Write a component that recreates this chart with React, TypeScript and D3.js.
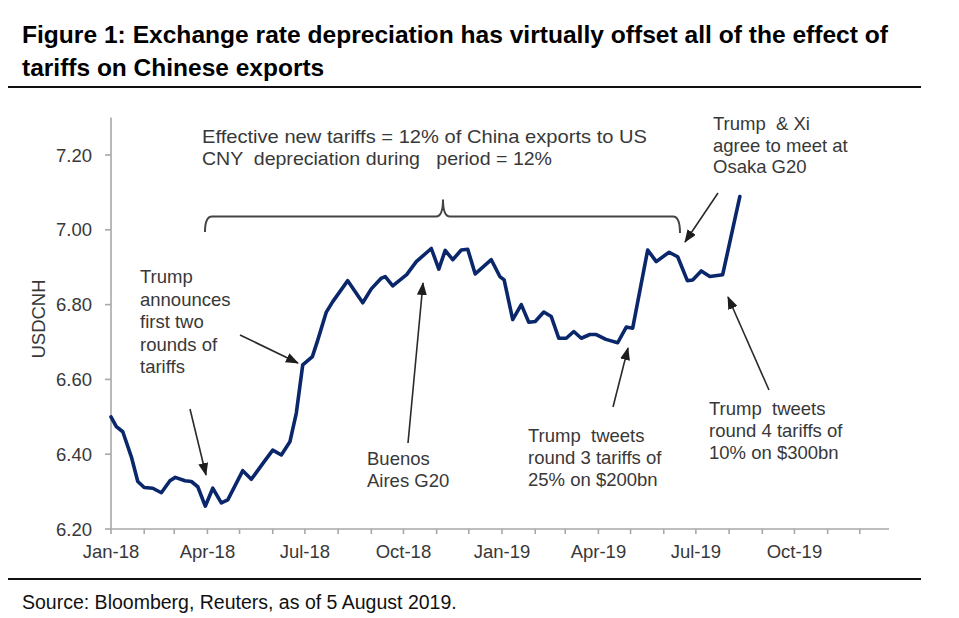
import React from "react";
import * as d3 from "d3";

// ---- Data ----
const dates: string[] = [
  "2018-01-01", "2018-01-06", "2018-01-12", "2018-01-20", "2018-01-26", "2018-02-01",
  "2018-02-09", "2018-02-17", "2018-02-25", "2018-03-02", "2018-03-11", "2018-03-17",
  "2018-03-23", "2018-03-30", "2018-04-06", "2018-04-14", "2018-04-20", "2018-05-04",
  "2018-05-12", "2018-05-24", "2018-06-01", "2018-06-09", "2018-06-17", "2018-06-23",
  "2018-06-29", "2018-07-08", "2018-07-13", "2018-07-21", "2018-07-27", "2018-08-10",
  "2018-08-24", "2018-09-01", "2018-09-10", "2018-09-14", "2018-09-21", "2018-10-04",
  "2018-10-13", "2018-10-27", "2018-11-03", "2018-11-09", "2018-11-16", "2018-11-24",
  "2018-11-30", "2018-12-07", "2018-12-22", "2018-12-30", "2019-01-03", "2019-01-11",
  "2019-01-19", "2019-01-26", "2019-02-01", "2019-02-09", "2019-02-16", "2019-02-23",
  "2019-03-02", "2019-03-09", "2019-03-16", "2019-03-24", "2019-03-30", "2019-04-08",
  "2019-04-19", "2019-04-27", "2019-05-03", "2019-05-17", "2019-05-25", "2019-06-06",
  "2019-06-14", "2019-06-23", "2019-06-28", "2019-07-06", "2019-07-14", "2019-07-26",
  "2019-08-11",
];
const usdcnh: number[] = [
  6.5, 6.474, 6.46, 6.393, 6.327, 6.311,
  6.309, 6.297, 6.329, 6.338, 6.329, 6.327,
  6.313, 6.261, 6.309, 6.27, 6.278, 6.356,
  6.333, 6.38, 6.411, 6.398, 6.433, 6.51,
  6.639, 6.661, 6.705, 6.78, 6.808, 6.864,
  6.805, 6.842, 6.87, 6.875, 6.85, 6.88,
  6.915, 6.95, 6.895, 6.945, 6.92, 6.946,
  6.948, 6.882, 6.92, 6.875, 6.866, 6.76,
  6.8, 6.753, 6.755, 6.78, 6.768, 6.71,
  6.71, 6.728, 6.71, 6.72, 6.72, 6.707,
  6.698, 6.74, 6.737, 6.946, 6.915, 6.94,
  6.928, 6.864, 6.866, 6.89, 6.875, 6.88,
  7.089,
];
const yTicks: number[] = [6.2, 6.4, 6.6, 6.8, 7.0, 7.2];
const yDomain: [number, number] = [6.2, 7.3];
const xDomain: [string, string] = ["2018-01-01", "2020-01-01"];
const xLabelEveryMonths = 3;
const xLabelLast = "2019-10-01";

const titleLines: string[] = [
  "Figure 1: Exchange rate depreciation has virtually offset all of the effect of",
  "tariffs on Chinese exports",
];
const yAxisTitle = "USDCNH";
const bracketNote: string[] = [
  "Effective new tariffs = 12% of China exports to US",
  "CNY  depreciation during   period = 12%",
];
const noteRounds12: string[] = ["Trump", "announces", "first two", "rounds of", "tariffs"];
const noteBuenos: string[] = ["Buenos", "Aires G20"];
const noteRound3: string[] = ["Trump  tweets", "round 3 tariffs of", "25% on $200bn"];
const noteRound4: string[] = ["Trump  tweets", "round 4 tariffs of", "10% on $300bn"];
const noteOsaka: string[] = ["Trump  & Xi", "agree to meet at", "Osaka G20"];
const sourceText = "Source: Bloomberg, Reuters, as of 5 August 2019.";

const FONT = "'Liberation Sans', Arial, Helvetica, sans-serif";

export default function App() {
  const W = 959;
  const H = 618;
  const parse = d3.timeParse("%Y-%m-%d");
  const fmt = d3.timeFormat("%b-%y");

  const left = 111;
  const right = 893;
  const bottom = 529;
  const y = d3.scaleLinear().domain(yDomain).range([bottom, 117.6]);
  const x = d3
    .scaleTime()
    .domain([parse(xDomain[0]) as Date, parse(xDomain[1]) as Date])
    .range([left, right]);

  const pts = dates.map((d, i) => ({ d: parse(d) as Date, v: usdcnh[i] }));
  const line = d3
    .line<{ d: Date; v: number }>()
    .x((p) => x(p.d))
    .y((p) => y(p.v));

  const end = parse(xDomain[1]) as Date;
  const monthTicks = x.ticks(d3.timeMonth.every(1) as any).filter((t) => t < end);
  const lastLabel = parse(xLabelLast) as Date;
  const labelTicks = monthTicks.filter(
    (t, i) => i % xLabelEveryMonths === 0 && t <= lastLabel
  );

  const axisColor = "#a8a8a8";
  const textColor = "#383838";
  const noteSize = 18.5;

  const lines = (arr: string[], x0: number, y0: number, dy: number) =>
    arr.map((s, i) => (
      <text
        key={i}
        x={x0}
        y={y0 + i * dy}
        fontSize={noteSize}
        fill={textColor}
        style={{ whiteSpace: "pre" }}
      >
        {s}
      </text>
    ));

  const arrow = (x1: number, y1: number, x2: number, y2: number) => (
    <line
      x1={x1}
      y1={y1}
      x2={x2}
      y2={y2}
      stroke="#2a2a2a"
      strokeWidth={1.6}
      markerEnd="url(#ah)"
    />
  );

  return (
    <svg
      width={W}
      height={H}
      viewBox={`0 0 ${W} ${H}`}
      style={{ position: "absolute", left: 0, top: 0, background: "#fff" }}
      fontFamily={FONT}
    >
      <defs>
        <marker
          id="ah"
          markerUnits="userSpaceOnUse"
          markerWidth={13}
          markerHeight={10}
          refX={12}
          refY={5}
          orient="auto"
        >
          <path d="M0,0 L13,5 L0,10 z" fill="#1e1e1e" />
        </marker>
      </defs>
      <rect x={0} y={0} width={W} height={H} fill="#fff" />

      {/* Title */}
      {titleLines.map((t, i) => (
        <text
          key={i}
          x={22}
          y={43 + i * 32.5}
          fontSize={24.5}
          fontWeight="bold"
          fill="#000"
          textLength={i === 0 ? 866 : undefined}
          lengthAdjust="spacingAndGlyphs"
        >
          {t}
        </text>
      ))}
      <line x1={8} x2={921} y1={87} y2={87} stroke="#111" strokeWidth={2.2} />

      {/* Y axis */}
      <line x1={left} x2={left} y1={y(yDomain[1])} y2={bottom} stroke={axisColor} strokeWidth={1.6} />
      {yTicks.map((t) => (
        <g key={t}>
          <line x1={left - 6} x2={left} y1={y(t)} y2={y(t)} stroke={axisColor} strokeWidth={1.6} />
          <text
            x={92}
            y={y(t) + 6.5}
            fontSize={18.5}
            fill={textColor}
            textAnchor="end"
          >
            {t.toFixed(2)}
          </text>
        </g>
      ))}
      <text
        transform={`translate(45,319) rotate(-90)`}
        fontSize={18.5}
        fill={textColor}
        textAnchor="middle"
      >
        {yAxisTitle}
      </text>

      {/* X axis */}
      <line x1={left} x2={889} y1={bottom} y2={bottom} stroke={axisColor} strokeWidth={1.6} />
      {monthTicks.map((t, i) => (
        <line
          key={i}
          x1={x(t)}
          x2={x(t)}
          y1={bottom}
          y2={bottom + 5}
          stroke={axisColor}
          strokeWidth={1.6}
        />
      ))}
      {labelTicks.map((t, i) => (
        <text
          key={i}
          x={x(t)}
          y={558}
          fontSize={18.5}
          fill={textColor}
          textAnchor="middle"
        >
          {fmt(t)}
        </text>
      ))}

      {/* Series */}
      <path
        d={line(pts) || ""}
        fill="none"
        stroke="#0a276c"
        strokeWidth={3.6}
        strokeLinejoin="round"
        strokeLinecap="round"
      />

      {/* Bracket */}
      <path
        d="M205,232 Q205,216.5 212,216.5 L436,216.5 Q443,216.5 443,199.5 Q443,216.5 450,216.5 L673,216.5 Q680,216.5 680,233"
        fill="none"
        stroke="#444"
        strokeWidth={2}
      />
      <text
        x={202}
        y={143}
        fontSize={noteSize}
        fill={textColor}
        textLength={445}
        lengthAdjust="spacingAndGlyphs"
      >
        {bracketNote[0]}
      </text>
      <text
        x={202}
        y={165}
        fontSize={noteSize}
        fill={textColor}
        textLength={350}
        lengthAdjust="spacingAndGlyphs"
        style={{ whiteSpace: "pre" }}
      >
        {bracketNote[1]}
      </text>

      {/* Annotations */}
      {lines(noteRounds12, 140, 283, 22.5)}
      {arrow(240, 335, 298, 363)}
      {arrow(190, 409, 206, 475)}

      {lines(noteBuenos, 367, 465, 22)}
      {arrow(408, 443, 423, 283)}

      {lines(noteRound3, 528, 442, 22)}
      {arrow(613, 407, 628, 348)}

      {lines(noteRound4, 709, 415, 22)}
      {arrow(769, 390, 728, 297)}

      {lines(noteOsaka, 713, 130, 21.7)}
      {arrow(718, 193, 685, 242)}

      {/* Footer */}
      <line x1={8} x2={921} y1={579} y2={579} stroke="#111" strokeWidth={2.2} />
      <text x={22} y={609} fontSize={19.5} fill="#111">
        {sourceText}
      </text>
    </svg>
  );
}
